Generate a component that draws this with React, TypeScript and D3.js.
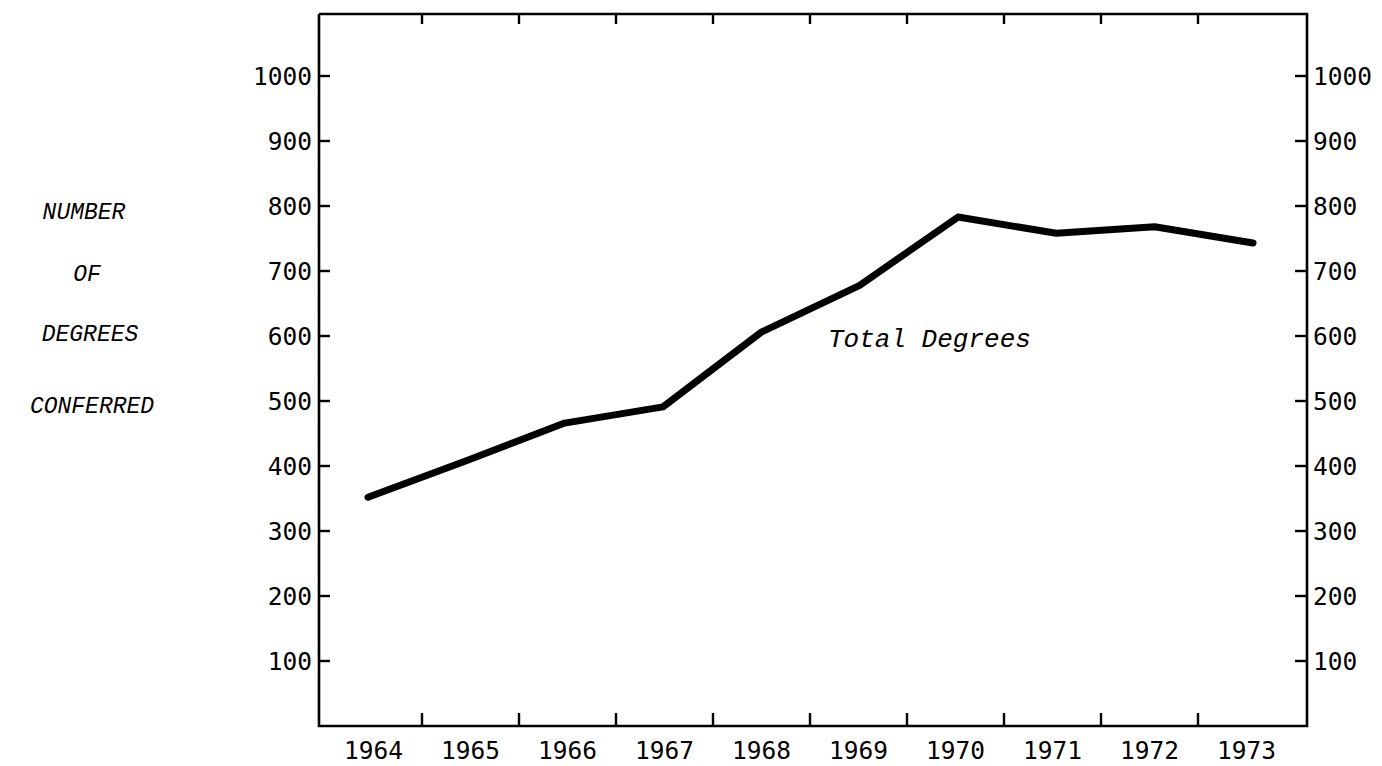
import React from "react";
import * as d3 from "d3";

const years: number[] = [1964, 1965, 1966, 1967, 1968, 1969, 1970, 1971, 1972, 1973];
const totalDegrees: number[] = [352, 408, 466, 491, 606, 678, 783, 758, 768, 743];
const yTicks: number[] = [100, 200, 300, 400, 500, 600, 700, 800, 900, 1000];
const yTitleLines: string[] = ["NUMBER", "OF", "DEGREES", "CONFERRED"];
const seriesLabel = "Total Degrees";

const W = 1382;
const H = 766;
const left = 319;
const right = 1307;
const top = 14;
const bottom = 726;

export default function App() {
  const y = d3.scaleLinear().domain([0, 1000]).range([bottom, 76]);
  const xBand = d3.scaleBand<number>().domain(years).range([325, 1295]).paddingInner(0).paddingOuter(0);
  const xLine = d3.scalePoint<number>().domain(years).range([368, 1253]);
  const line = d3
    .line<number>()
    .x((_, i) => xLine(years[i]) as number)
    .y((d) => y(d));

  const tickFont = "'DejaVu Sans Mono', monospace";
  const titleFont = "'Liberation Mono', monospace";
  const titleX = [84, 87, 90, 92];
  const titleY = [219, 281, 341, 413];
  const bandEdges = years.slice(1).map((yr) => xBand(yr) as number);

  return (
    <svg
      width={W}
      height={H}
      style={{ position: "absolute", left: 0, top: 0, display: "block", background: "#fff" }}
    >
      {/* frame */}
      <path
        d={`M${left},${top} L${left},${bottom} L${right},${bottom} L${right},${top} L${left},${top}`}
        fill="none"
        stroke="#000"
        strokeWidth={2.6}
      />
      {/* y ticks left & right */}
      {yTicks.map((t) => (
        <g key={t}>
          <line x1={left} x2={left + 11} y1={y(t)} y2={y(t)} stroke="#000" strokeWidth={2.4} />
          <line x1={right - 12} x2={right} y1={y(t)} y2={y(t)} stroke="#000" strokeWidth={2.4} />
          <text
            x={312}
            y={y(t)}
            dy="0.36em"
            textAnchor="end"
            fontFamily={tickFont}
            fontSize={24.5}
            fill="#000"
          >
            {t}
          </text>
          <text
            x={1313}
            y={y(t)}
            dy="0.36em"
            textAnchor="start"
            fontFamily={tickFont}
            fontSize={24.5}
            fill="#000"
          >
            {t}
          </text>
        </g>
      ))}
      {/* x ticks bottom & top */}
      {bandEdges.map((xe, i) => (
        <g key={i}>
          <line x1={xe} x2={xe} y1={bottom} y2={bottom - 13} stroke="#000" strokeWidth={2.4} />
          <line x1={xe} x2={xe} y1={top} y2={top + 10} stroke="#000" strokeWidth={2.4} />
        </g>
      ))}
      {years.map((yr) => (
        <text
          key={yr}
          x={(xBand(yr) as number) + xBand.bandwidth() / 2}
          y={759}
          textAnchor="middle"
          fontFamily={tickFont}
          fontSize={24.5}
          fill="#000"
        >
          {yr}
        </text>
      ))}
      {/* y title */}
      {yTitleLines.map((s, i) => (
        <text
          key={s}
          x={titleX[i]}
          y={titleY[i]}
          textAnchor="middle"
          fontFamily={titleFont}
          fontStyle="italic"
          fontSize={23}
          fill="#000"
        >
          {s}
        </text>
      ))}
      {/* series */}
      <path
        d={line(totalDegrees) || ""}
        fill="none"
        stroke="#000"
        strokeWidth={7}
        strokeLinejoin="round"
        strokeLinecap="round"
      />
      <text
        x={828}
        y={347}
        fontFamily={titleFont}
        fontStyle="italic"
        fontSize={26}
        fill="#000"
      >
        {seriesLabel}
      </text>
    </svg>
  );
}
